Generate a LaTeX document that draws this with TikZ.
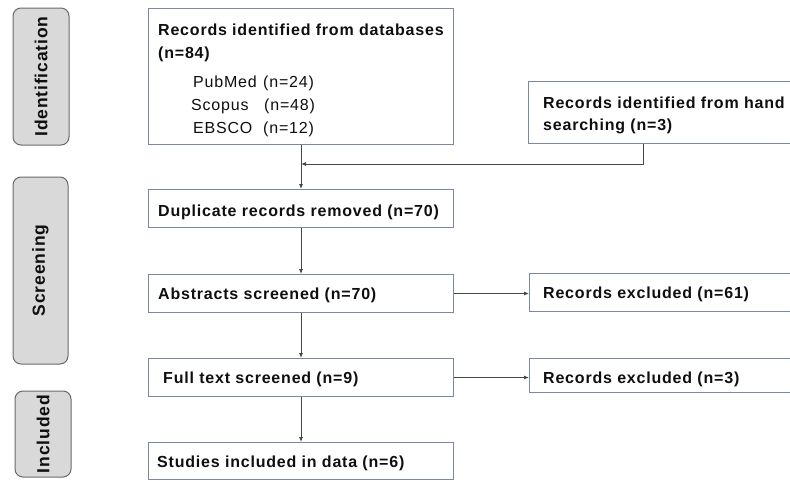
\documentclass[tikz,border=0pt]{standalone}
\usepackage{fontspec}
\setmainfont{Liberation Sans}[LetterSpace=5]
\usetikzlibrary{arrows.meta}
\definecolor{boxline}{RGB}{125,135,160}
\definecolor{sidefill}{RGB}{217,217,217}
\definecolor{sideline}{RGB}{105,105,105}
\definecolor{arrline}{RGB}{70,70,70}
\definecolor{txtcol}{RGB}{15,15,15}
\begin{document}
\begin{tikzpicture}[x=1pt,y=-1pt,
  flowbox/.style={draw=boxline, line width=1pt, fill=white, rectangle, inner sep=0pt, anchor=north west},
  sidebox/.style={draw=sideline, line width=1pt, fill=sidefill, rectangle, rounded corners=8pt, rotate=90, inner sep=0pt, text=txtcol, font=\fontsize{17.5}{20}\selectfont\bfseries},
  btxt/.style={anchor=base west, inner sep=0pt, text=txtcol, font=\fontsize{16}{19}\selectfont\bfseries},
  rtxt/.style={anchor=base west, inner sep=0pt, text=txtcol, font=\fontsize{16}{19}\selectfont},
  arr/.style={draw=arrline, line width=0.8pt, -{Latex[length=5pt,width=4pt]}}
]
\useasboundingbox (0,0) rectangle (790,480);

% side labels
\node[sidebox, minimum width=137pt, minimum height=56pt] (sid) at (41,76.5) {Identification};
\node[sidebox, minimum width=187pt, minimum height=55pt] (sscr) at (40.5,270.5) {Screening};
\node[sidebox, minimum width=86pt, minimum height=56pt] (sinc) at (43,434) {Included};

% boxes
\node[flowbox, minimum width=305pt, minimum height=136pt] (db) at (148,8) {};
\node[flowbox, minimum width=270pt, minimum height=62pt] (hand) at (528,81) {};
\node[flowbox, minimum width=305pt, minimum height=38pt] (dup) at (148,189) {};
\node[flowbox, minimum width=305pt, minimum height=38pt] (abs) at (148,274) {};
\node[flowbox, minimum width=305pt, minimum height=38pt] (full) at (148,358) {};
\node[flowbox, minimum width=305pt, minimum height=37pt] (stud) at (148,442) {};
\node[flowbox, minimum width=270pt, minimum height=38pt] (ex1) at (529,273) {};
\node[flowbox, minimum width=270pt, minimum height=34pt] (ex2) at (529,358) {};

% texts
\node[btxt] (t1a) at (158,35) {Records identified from databases};
\node[btxt] (t1b) at (158,58) {(n=84)};
\node[rtxt] (t1c) at (193,87) {PubMed};
\node[rtxt] (t1d) at (191,110) {Scopus};
\node[rtxt] (t1e) at (193,133) {EBSCO};
\node[rtxt] (t1f) at (263,87) {(n=24)};
\node[rtxt] (t1g) at (264,110) {(n=48)};
\node[rtxt] (t1h) at (263,133) {(n=12)};
\node[btxt] (t2a) at (543,108) {Records identified from hand};
\node[btxt] (t2b) at (543,130) {searching (n=3)};
\node[btxt] (t3) at (158,216) {Duplicate records removed (n=70)};
\node[btxt] (t4) at (158,299) {Abstracts screened (n=70)};
\node[btxt] (t5) at (163,383) {Full text screened (n=9)};
\node[btxt] (t6) at (157,467) {Studies included in data (n=6)};
\node[btxt] (t7) at (543,298) {Records excluded (n=61)};
\node[btxt] (t8) at (543,383) {Records excluded (n=3)};

% connectors
\path (db.south) ++(0,19) coordinate (merge);
\draw[arr] (db.south) -- (dup.north);
\draw[arr] (hand.south west) ++(115,0) |- (merge);
\draw[arr] (dup.south) -- (abs.north);
\draw[arr] (abs.south) -- (full.north);
\draw[arr] (full.south) -- (stud.north);
\draw[arr] (abs.east) -- (abs.east -| ex1.west);
\draw[arr] (full.east) -- (full.east -| ex2.west);
\end{tikzpicture}
\end{document}
